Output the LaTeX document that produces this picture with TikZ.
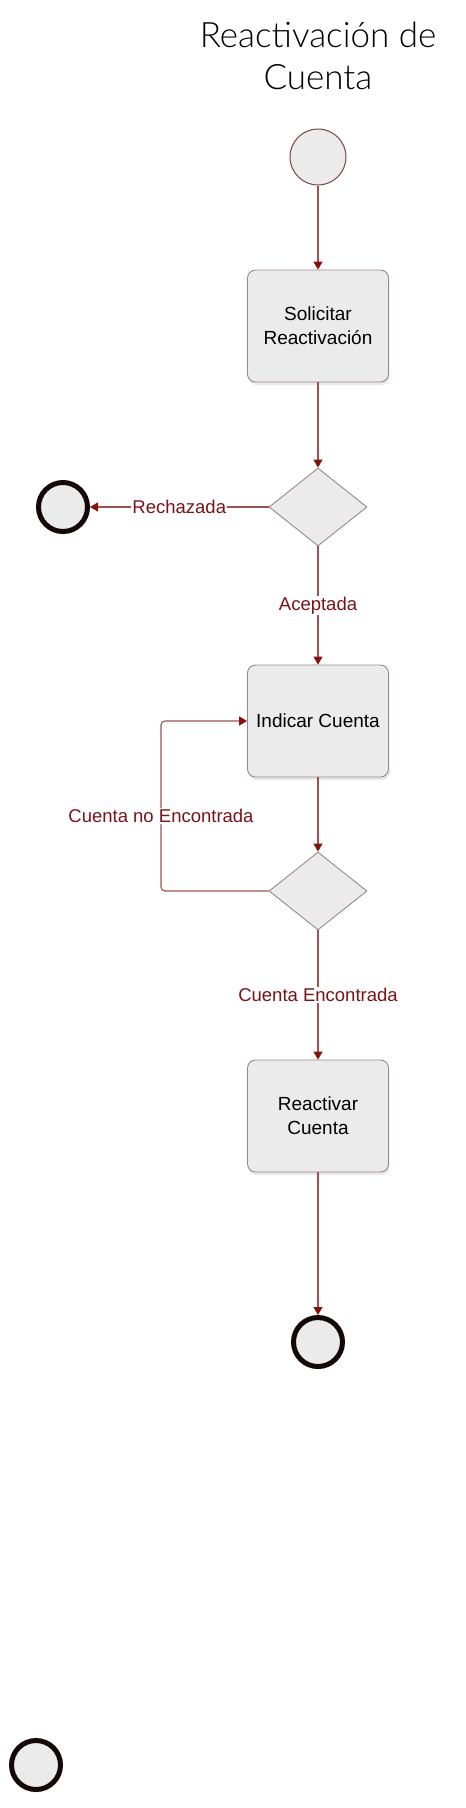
\documentclass[tikz,border=0pt]{standalone}
\usepackage{fontspec}
\setmainfont{Liberation Sans}
\newfontfamily\titulofont{Lato Light}
\usetikzlibrary{arrows.meta}
\usetikzlibrary{shapes.geometric, shadows}

\definecolor{linea}{RGB}{160,80,80}
\definecolor{punta}{RGB}{135,15,15}
\definecolor{etiq}{RGB}{120,20,25}
\definecolor{relleno}{RGB}{236,235,235}
\definecolor{borde}{RGB}{155,135,135}

\tikzset{
  actividad/.style={draw=borde, fill=relleno, rounded corners=8pt,
    minimum width=141pt, minimum height=112pt, inner sep=0pt, align=center,
    font=\fontsize{19}{24}\selectfont, line width=0.9pt,
    drop shadow={shadow xshift=1pt, shadow yshift=-3pt, opacity=0.18}},
  decision/.style={diamond, draw=borde, fill=relleno, minimum width=98pt,
    minimum height=78pt, inner sep=0pt, line width=0.9pt},
  inicio/.style={circle, draw={rgb,255:red,120;green,70;blue,70}, line width=1pt,
    fill=relleno, minimum size=56pt, inner sep=0pt},
  fin/.style={circle, draw={rgb,255:red,20;green,8;blue,8}, line width=5pt,
    fill=relleno, minimum size=49pt, inner sep=0pt,
    drop shadow={shadow xshift=0pt, shadow yshift=-3pt, opacity=0.15}},
  flecha/.style={draw=linea, line width=1.1pt,
    -{Triangle[length=8pt, width=9pt, color=punta]}},
  etiqueta/.style={fill=white, text=etiq, inner sep=1pt,
    font=\fontsize{18.5}{22}\selectfont},
}

\begin{document}
\begin{tikzpicture}[x=1pt, y=-1pt]
    \useasboundingbox (0,0) rectangle (466,1808);

    % Titulo
    \node[align=center, font=\titulofont\fontsize{35}{42}\selectfont] (titulo) at (318,56)
        {Reactivación de\\Cuenta};

    % Nodos
    \node[inicio] (ini) at (318,157) {};
    \node[actividad] (solicitar) at (318,326) {Solicitar\\Reactivación};
    \node[decision] (dec1) at (318,507) {};
    \node[fin] (rechazo) at (63,507) {};
    \node[actividad] (indicar) at (318,721) {Indicar Cuenta};
    \node[decision] (dec2) at (318,891) {};
    \node[actividad] (reactivar) at (318,1116) {Reactivar\\Cuenta};
    \node[fin] (final) at (318,1342) {};
    \node[fin] (suelto) at (36,1765) {};

    % Flujo principal
    \draw[flecha] (ini) -- (solicitar);
    \draw[flecha] (solicitar) -- (dec1);
    \draw[flecha] (dec1.west) -- node[etiqueta] (lrech) {Rechazada} (rechazo);
    \draw[flecha] (dec1.south) -- node[etiqueta] (lacep) {Aceptada} (indicar);
    \draw[flecha] (indicar) -- (dec2);
    \draw[flecha] (dec2.south) -- node[etiqueta] (lenc) {Cuenta Encontrada} (reactivar);
    \draw[flecha] (reactivar) -- (final);

    % Lazo de cuenta no encontrada
    \coordinate (lazo) at (161,0);
    \draw[flecha, rounded corners=4pt] (dec2.west) -- (lazo |- dec2.west)
        -- node[etiqueta, pos=0.44] (lnoenc) {Cuenta no Encontrada} (lazo |- indicar.west)
        -- (indicar.west);
\end{tikzpicture}
\end{document}
